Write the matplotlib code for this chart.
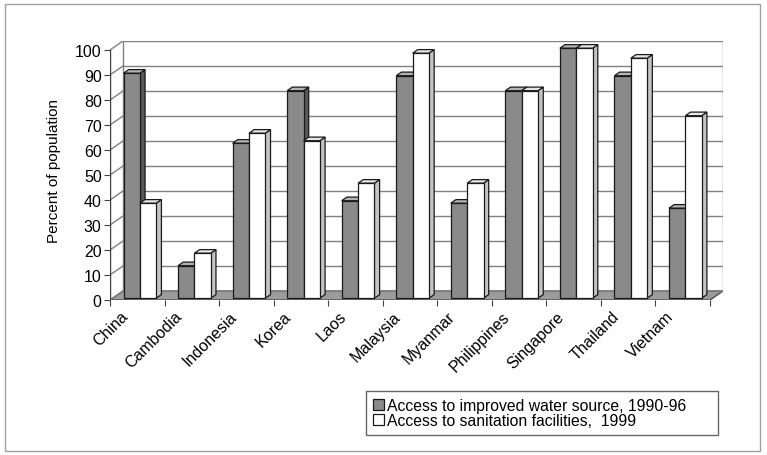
import numpy as np
import matplotlib.pyplot as plt
from matplotlib.patches import Polygon, Patch, Rectangle

plt.rcParams['font.family'] = ['Liberation Sans', 'DejaVu Sans']

# Datos
paises = ['China', 'Cambodia', 'Indonesia', 'Korea', 'Laos', 'Malaysia',
          'Myanmar', 'Philippines', 'Singapore', 'Thailand', 'Vietnam']
agua = [90, 13, 62, 83, 39, 89, 38, 83, 100, 89, 36]
saneamiento = [38, 18, 66, 63, 46, 98, 46, 83, 100, 96, 73]
etiquetas = ['Access to improved water source, 1990-96',
             'Access to sanitation facilities,  1999']
yticks = list(range(0, 101, 10))

# Profundidad del efecto 3D (en unidades de datos)
DX = 0.238   # desplazamiento horizontal hacia el fondo
DY = 3.6     # desplazamiento vertical hacia el fondo
d0, d1 = 0.2, 0.6   # profundidad de las barras (frente, fondo)
ancho = 0.3

n = len(paises)
x = np.arange(n)
x0, x1 = -0.5, n - 0.5

fig = plt.figure(figsize=(7.67, 4.56), dpi=100)
ax = fig.add_axes([110 / 767, 1 - 301 / 456, 613 / 767, 259 / 456])
ax.set_xlim(x0, x1 + DX)
ax.set_ylim(0, 100 + DY)
for s in ax.spines.values():
    s.set_visible(False)

linea = dict(color='#808080', lw=1.0, zorder=1)

# Suelo
ax.add_patch(Polygon([(x0, 0), (x1, 0), (x1 + DX, DY), (x0 + DX, DY)],
                     closed=True, fc='#9c9c9c', ec='#505050', lw=1.0, zorder=1))

# Pared del fondo y pared lateral
for v in yticks:
    ax.plot([x0 + DX, x1 + DX], [v + DY, v + DY], **linea)
    ax.plot([x0, x0 + DX], [v, v + DY], **linea)
ax.plot([x0 + DX, x0 + DX], [DY, 100 + DY], **linea)
ax.plot([x1 + DX, x1 + DX], [DY, 100 + DY], **linea)
ax.plot([x0, x0], [0, 100], color='#404040', lw=1.0, zorder=2)

# Barras con caras superior y lateral
def barra(xi, v, color_frente, color_sup, color_lado, z):
    xa = xi + d0 * DX
    yb = d0 * DY
    xb = xa + ancho
    fx = (d1 - d0) * DX
    fy = (d1 - d0) * DY
    lado = Polygon([(xb, yb), (xb + fx, yb + fy), (xb + fx, yb + fy + v), (xb, yb + v)],
                   closed=True, fc=color_lado, ec='#1a1a1a', lw=0.9, zorder=z)
    sup = Polygon([(xa, yb + v), (xb, yb + v), (xb + fx, yb + v + fy), (xa + fx, yb + v + fy)],
                  closed=True, fc=color_sup, ec='#1a1a1a', lw=0.9, zorder=z)
    ax.add_patch(lado)
    ax.add_patch(sup)
    b = ax.bar(xa, v, width=ancho, bottom=yb, align='edge',
               color=color_frente, edgecolor='#1a1a1a', linewidth=0.9)
    b[0].set_zorder(z + 0.5)

z = 3
for i in range(n):
    barra(x[i] - ancho, agua[i], '#8a8a8a', '#b4b4b4', '#585858', z)
    z += 1
    barra(x[i], saneamiento[i], 'white', '#e6e6e6', '#c4c4c4', z)
    z += 1

# Ejes
ax.set_yticks(yticks)
ax.tick_params(axis='y', direction='out', length=4, width=0.8, color='#404040',
               labelsize=11.5, pad=2)
ax.set_xticks(np.arange(n + 1) - 0.5)
ax.set_xticklabels([])
ax.set_xticks(x - 0.12, minor=True)
ax.set_xticklabels(paises, minor=True, rotation=45, ha='right', va='top', fontsize=11.5)
ax.tick_params(axis='x', which='major', direction='out', length=4, width=0.8, color='#404040')
ax.tick_params(axis='x', which='minor', length=0, pad=6)
ax.set_ylabel('Percent of population', fontsize=11, labelpad=10)

# Leyenda (caja ensanchada hasta el borde derecho)
handles = [Patch(fc='#8a8a8a', ec='#1a1a1a', lw=0.9),
           Patch(fc='white', ec='#1a1a1a', lw=0.9)]
leg = fig.legend(handles, etiquetas, loc='upper left', mode='expand',
                 bbox_to_anchor=(366 / 767, 1 - 424 / 456, 352 / 767, 32 / 456),
                 fontsize=11.3, frameon=True, fancybox=False, edgecolor='#404040',
                 handlelength=0.7, handleheight=0.7, handletextpad=0.2,
                 labelspacing=0.0, borderpad=0.45, borderaxespad=0)
leg.get_frame().set_linewidth(1.0)

# Marco exterior
fig.patches.append(Rectangle((5 / 767, 4 / 456), 755 / 767, 447 / 456,
                             transform=fig.transFigure, fill=False,
                             ec='#a0a0a0', lw=1.0))

fig.savefig('out.png', dpi=100)
